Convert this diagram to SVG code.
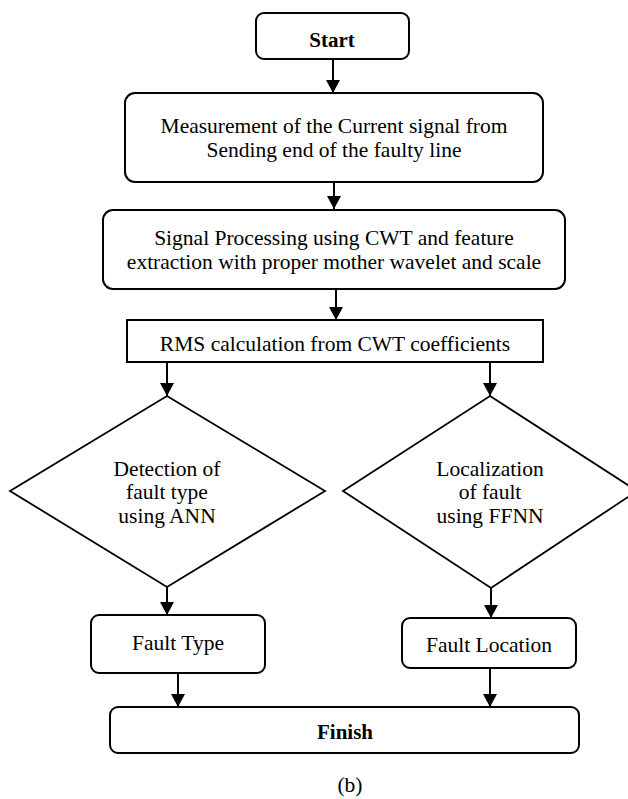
<svg xmlns="http://www.w3.org/2000/svg" width="628" height="799" viewBox="0 0 628 799">
<style>
.box{fill:#fff;stroke:#000;stroke-width:2}
.dia{fill:#fff;stroke:#000;stroke-width:1.8}
.t{font-family:"Liberation Serif","Times New Roman",serif;font-size:21.5px;fill:#000;text-anchor:middle}
.b{font-weight:bold;font-size:21px}
.c{stroke:#000;stroke-width:2;fill:none;marker-end:url(#ah)}
</style>
<defs>
<marker id="ah" markerUnits="userSpaceOnUse" markerWidth="14" markerHeight="14" refX="13" refY="7" orient="auto">
<path d="M0,0 L13,7 L0,14 z" fill="#000"/>
</marker>
</defs>
<rect width="628" height="799" fill="#fff"/>
<g id="connectors">
<line class="c" x1="333" y1="59" x2="333" y2="93"/>
<line class="c" x1="334" y1="182" x2="334" y2="209"/>
<line class="c" x1="336" y1="289" x2="336" y2="320"/>
<line class="c" x1="167" y1="362" x2="167" y2="396"/>
<line class="c" x1="490" y1="362" x2="490" y2="396"/>
<line class="c" x1="167" y1="587" x2="167" y2="615"/>
<line class="c" x1="491" y1="588" x2="491" y2="618"/>
<line class="c" x1="178" y1="673" x2="178" y2="707"/>
<line class="c" x1="490" y1="668" x2="490" y2="707"/>
</g>
<g id="start">
<rect class="box" x="256" y="13" width="153" height="46" rx="8"/>
<text class="t b" x="332" y="47">Start</text>
</g>
<g id="measurement">
<rect class="box" x="125" y="93" width="418" height="89" rx="10"/>
<text class="t" x="334" y="133">Measurement of the Current signal from</text>
<text class="t" x="334" y="157">Sending end of the faulty line</text>
</g>
<g id="processing">
<rect class="box" x="103" y="210" width="462" height="79" rx="10"/>
<text class="t" x="334" y="245">Signal Processing using CWT and feature</text>
<text class="t" x="334" y="269">extraction with proper mother wavelet and scale</text>
</g>
<g id="rms">
<rect class="box" x="127" y="320" width="416" height="42"/>
<text class="t" x="335" y="351">RMS calculation from CWT coefficients</text>
</g>
<g id="detection">
<polygon class="dia" points="167,396 325,491 167,587 10,491"/>
<text class="t" x="167" y="476">Detection of</text>
<text class="t" x="167" y="499">fault type</text>
<text class="t" x="167" y="523">using ANN</text>
</g>
<g id="localization">
<polygon class="dia" points="490,396 637,491 491,588 343,491"/>
<text class="t" x="490" y="476">Localization</text>
<text class="t" x="490" y="499">of fault</text>
<text class="t" x="490" y="523">using FFNN</text>
</g>
<g id="faulttype">
<rect class="box" x="91" y="615" width="174" height="58" rx="8"/>
<text class="t" x="178" y="650">Fault Type</text>
</g>
<g id="faultlocation">
<rect class="box" x="402" y="618" width="174" height="50" rx="8"/>
<text class="t" x="489" y="652">Fault Location</text>
</g>
<g id="finish">
<rect class="box" x="110" y="707" width="469" height="46" rx="8"/>
<text class="t b" x="345" y="739">Finish</text>
</g>
<text class="t" x="350" y="792">(b)</text>
</svg>
